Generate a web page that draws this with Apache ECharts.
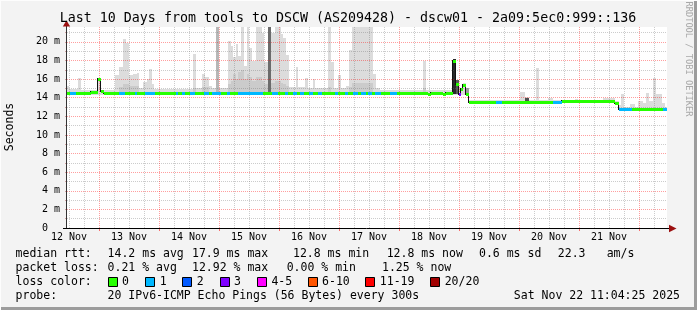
<!DOCTYPE html>
<html><head><meta charset="utf-8">
<script src="https://cdn.jsdelivr.net/npm/echarts@6/dist/echarts.min.js"></script>
<style>html,body{margin:0;padding:0;background:#f3f3f3}#c{width:697px;height:310px}</style>
</head><body><div id="c"></div>
<script>
// ---------------- data (hours since 12 Nov 00:00, values in ms) ----------------
const titleText = 'Last 10 Days from tools to DSCW (AS209428) - dscw01 - 2a09:5ec0:999::136';
const xMin = 11.2, xMax = 251.2;          // 12 Nov 11:12 .. 22 Nov 11:12
const yMax = 21.6;                         // ms
const dayLabels = ['12 Nov','13 Nov','14 Nov','15 Nov','16 Nov','17 Nov','18 Nov','19 Nov','20 Nov','21 Nov'];
const dayNoons  = [12, 36, 60, 84, 108, 132, 156, 180, 204, 228];
const midnights = [24, 48, 72, 96, 120, 144, 168, 192, 216, 240];
const sixHours  = [12,18,30,36,42,54,60,66,78,84,90,102,108,114,126,132,138,150,156,162,174,180,186,198,204,210,222,228,234,246];

// median rtt steps: [start hour, median ms, lost pings of 20]
const medianSteps = [
 [11.2,14.5,0],[12.4,14.5,1],[14.8,14.5,0],[20.8,14.6,0],[23.6,16.0,0],[24.8,14.75,0],[26.0,14.5,0],
 [32.0,14.5,1],[34.4,14.5,0],[38.4,14.5,1],[39.2,14.5,0],[42.4,14.5,1],[46.4,14.5,0],[54.8,14.5,1],
 [55.6,14.5,0],[57.2,14.5,1],[58.4,14.5,0],[60.4,14.5,1],[62.4,14.5,0],[66.0,14.5,1],[68.0,14.5,0],
 [69.2,14.5,1],[72.8,14.5,0],[75.2,14.5,1],[76.4,14.5,0],[79.6,14.5,1],[89.6,14.5,0],[93.2,14.5,1],
 [95.6,14.5,0],[98.4,14.5,1],[99.6,14.5,0],[101.6,14.5,1],[103.2,14.5,0],[104.4,14.5,1],[106.0,14.5,0],
 [108.0,14.5,1],[109.6,14.5,0],[111.6,14.5,1],[113.2,14.5,0],[118.4,14.5,1],[119.6,14.5,0],[122.4,14.5,1],
 [123.6,14.5,0],[125.6,14.5,1],[127.6,14.5,0],[128.8,14.5,1],[130.8,14.5,0],[131.6,14.5,1],[133.2,14.5,0],
 [134.4,14.5,1],[136.8,14.5,0],[140.4,14.5,1],[143.2,14.5,0],[155.6,14.4,0],[156.8,14.5,0],[161.6,14.4,0],
 [162.8,14.5,0],[165.6,17.9,0],[166.8,15.5,0],[168.0,14.4,3],[168.8,14.9,0],[169.6,15.4,0],[170.8,14.45,0],
 [172.0,13.58,0],[182.8,13.58,1],[185.2,13.58,0],[205.6,13.58,1],[209.2,13.7,0],[215.2,13.62,0],
 [220.4,13.68,0],[225.6,13.6,0],[230.4,13.45,0],[232.0,12.83,1],[237.2,12.83,0],[249.6,12.83,1]
];

// smoke columns: [start hour, max ping ms, inner (denser) ping ms or 0]
const smokeCols = [
 [11.2,15.3,0],[12.0,14.95,0],[15.6,16.1,0],[16.8,14.85,0],[23.6,16.1,0],[24.8,14.85,0],[30.4,16.4,0],
 [32.0,17.3,15.2],[33.6,20.3,15.5],[34.8,19.85,15.5],[36.0,16.4,15.3],[37.6,16.6,15.3],[39.2,16.7,15.3],
 [40.0,15.0,0],[41.6,15.65,0],[43.2,16.0,0],[44.0,17.1,0],[45.2,15.5,0],[46.0,14.95,0],[61.6,18.7,15.0],
 [62.8,15.0,0],[65.2,16.5,15.2],[66.4,16.2,15.2],[68.0,15.3,0],[69.2,15.0,0],[70.8,21.6,0],[72.0,15.0,0],
 [75.6,20.1,15.5],[76.8,19.6,15.8],[77.6,18.35,16.5],[78.8,19.8,16.0],[79.6,18.5,16.8],[80.8,21.6,17.0],
 [82.0,17.4,16.0],[83.2,21.6,16.5],[84.0,19.35,16.2],[85.2,17.9,15.8],[86.8,21.6,16.2],[89.2,21.0,15.8],
 [90.0,17.8,15.5],[91.6,21.6,0],[92.8,21.0,15.6],[94.4,21.6,15.8],[96.8,20.8,15.6],[97.6,20.4,15.5],
 [98.8,18.6,15.3],[100.0,15.2,0],[102.8,17.35,0],[103.6,15.2,0],[106.4,16.1,0],[107.6,15.0,0],
 [109.6,16.0,0],[110.4,15.0,0],[115.6,21.6,15.2],[116.8,17.8,0],[118.0,15.0,0],[119.6,16.4,0],
 [120.8,15.0,0],[122.8,15.3,0],[124.0,19.1,15.2],[125.2,21.6,15.6],[133.6,16.6,0],[134.8,15.0,0],
 [136.4,14.85,0],[153.6,18.0,15.0],[154.8,14.8,0],[165.6,18.2,0],[166.8,15.8,0],[168.0,14.9,0],
 [169.6,15.6,0],[170.8,15.0,0],[172.0,13.75,0],[192.4,14.6,0],[194.4,14.05,0],[196.0,13.75,0],
 [198.8,17.2,0],[200.0,13.75,0],[203.6,14.0,0],[205.6,13.75,0],[214.4,13.9,0],[215.6,13.8,0],
 [225.6,14.0,0],[230.4,13.7,0],[232.0,13.2,0],[232.8,14.45,0],[234.0,13.0,0],[236.4,13.3,0],
 [238.4,12.95,0],[239.6,13.6,0],[241.6,13.4,0],[242.8,14.55,0],[244.0,13.6,0],[245.6,16.1,0],
 [246.8,14.45,0],[249.2,13.4,0],[250.4,13.0,0]
];
// minimum ping (bottom of smoke): [from hour, ms]
const smokeFloor = [[11.2,14.3],[172.0,13.45],[232.0,12.7]];
// dense smoke: [start, end, low ms, high ms, density 0..1]
const denseSmoke = [
 [70.8,72.0,14.3,21.6,0.2],[91.6,92.8,14.3,21.6,0.6],[165.6,166.8,14.4,18.2,0.95],
 [166.8,168.0,14.4,15.9,0.7],[170.8,172.0,14.4,15.0,0.35],[194.4,196.0,13.6,13.95,0.75]
];

const lossLabels = ['0','1','2','3','4-5','6-10','11-19','20/20'];
const lossColors = ['#26ff00','#00b8ff','#0059ff','#7e00ff','#ff00ff','#ff5500','#ff0000','#a10000'];
const rttStats  = ['14.2 ms avg','17.9 ms max','12.8 ms min','12.8 ms now','0.6 ms sd','22.3','am/s'];
const lossStats = ['0.21 % avg','12.92 % max','0.00 % min','1.25 % now'];
const probeText = '20 IPv6-ICMP Echo Pings (56 Bytes) every 300s';
const stampText = 'Sat Nov 22 11:04:25 2025';

// ---------------- build ----------------
function lossIndex(n){ if(n<=0)return 0; if(n===1)return 1; if(n===2)return 2; if(n===3)return 3; if(n<=5)return 4; if(n<=10)return 5; if(n<=19)return 6; return 7; }
function floorAt(h){ let v=smokeFloor[0][1]; smokeFloor.forEach(f=>{ if(h>=f[0]-1e-9) v=f[1]; }); return v; }

const smokeData = smokeCols.map((c,i)=>{
  const end = i+1<smokeCols.length ? smokeCols[i+1][0] : xMax;
  return [c[0], end, floorAt(c[0]), c[1], c[2]];
});
const medianData = medianSteps.map((m,i)=>{
  const end = i+1<medianSteps.length ? medianSteps[i+1][0] : xMax;
  return [m[0], end, m[1], m[2]];
});
const gridData = sixHours.map(h=>[h,0]).concat(midnights.map(h=>[h,1]));

const FONT = '"DejaVu Sans Mono", monospace';
const MAJOR = 'rgba(255,0,0,0.38)';
const MINOR = 'rgba(110,110,110,0.35)';

const chart = echarts.init(document.getElementById('c'), null, {renderer:'canvas', width:697, height:310});

function txt(x,y,text,opts){
  opts = opts||{};
  const align = opts.align||'left';
  return {type:'text', x:x, y:y, rotation:opts.rotation||0, z:20, silent:true,
    style:{text:text, font:(opts.size||11.5)+'px '+FONT, fill:opts.color||'#000',
      align:align, verticalAlign:'middle', textAlign:align, textVerticalAlign:'middle'}};
}

const graphics = [];
// frame
graphics.push({type:'rect', shape:{x:694,y:0,width:3,height:310}, style:{fill:'#9c9c9c'}, z:20, silent:true});
graphics.push({type:'rect', shape:{x:0,y:307,width:697,height:3}, style:{fill:'#9c9c9c'}, z:20, silent:true});
graphics.push({type:'rect', shape:{x:0,y:0,width:697,height:1}, style:{fill:'#fdfdfd'}, z:20, silent:true});
graphics.push({type:'rect', shape:{x:0,y:0,width:1,height:310}, style:{fill:'#fdfdfd'}, z:20, silent:true});
// title and side texts
graphics.push(txt(348,19,titleText,{size:13.3,align:'center'}));
graphics.push(txt(10.5,127,'Seconds',{align:'center',rotation:Math.PI/2}));
graphics.push(txt(688,59,'RRDTOOL / TOBI OETIKER',{size:8.7,align:'center',rotation:-Math.PI/2,color:'#a8a8a8'}));
// axes lines + arrows
graphics.push({type:'line', shape:{x1:66.5,y1:228,x2:66.5,y2:25}, style:{stroke:'#333',lineWidth:1}, z:15, silent:true});
graphics.push({type:'line', shape:{x1:63,y1:228.5,x2:670,y2:228.5}, style:{stroke:'#000',lineWidth:1}, z:15, silent:true});
graphics.push({type:'polygon', shape:{points:[[66.5,20.5],[62.8,26.5],[70.2,26.5]]}, style:{fill:'#9b0f0f'}, z:16, silent:true});
graphics.push({type:'polygon', shape:{points:[[676.5,228.5],[669,224.8],[669,232.2]]}, style:{fill:'#9b0f0f'}, z:16, silent:true});
// legend rows
const rowY = [254.5, 268.5, 282.5, 296.5];
graphics.push(txt(15.6,rowY[0],'median rtt:'));
const rttX = [107.6,192,293,386.7,479,557.8,606.7];
rttStats.forEach((s,i)=>graphics.push(txt(rttX[i],rowY[0],s)));
graphics.push(txt(15.6,rowY[1],'packet loss:'));
const lossX = [107.6,192,286.7,382];
lossStats.forEach((s,i)=>graphics.push(txt(lossX[i],rowY[1],s)));
graphics.push(txt(15.6,rowY[2],'loss color:'));
const sqX = [107.6,145.3,182.2,219.6,256.9,307.6,365.3,430.2];
lossLabels.forEach((l,i)=>{
  graphics.push({type:'rect', shape:{x:Math.round(sqX[i])+0.5,y:277.5,width:9,height:9}, style:{fill:lossColors[i],stroke:'#000',lineWidth:1}, z:20, silent:true});
  graphics.push(txt(sqX[i]+14.5,rowY[2],l));
});
graphics.push(txt(15.6,rowY[3],'probe:'));
graphics.push(txt(107.6,rowY[3],probeText));
graphics.push(txt(680,rowY[3],stampText,{align:'right'}));

const option = {
  animation:false,
  backgroundColor:'#f3f3f3',
  grid:{left:67, top:27, width:600, height:201, show:true, backgroundColor:'#ffffff', borderWidth:0},
  xAxis:{type:'value', min:xMin, max:xMax,
    axisLine:{show:false}, splitLine:{show:false},
    axisTick:{show:true, customValues:midnights, length:3, lineStyle:{color:'rgba(255,0,0,0.55)'}},
    axisLabel:{customValues:dayNoons, formatter:v=>{const k=dayNoons.indexOf(v);return k>=0?dayLabels[k]:'';},
      fontFamily:FONT, fontSize:10, color:'#000', margin:4}},
  yAxis:{type:'value', min:0, max:yMax, interval:1, z:3,
    axisLine:{show:false},
    axisTick:{show:true, length:2, lineStyle:{color:'#d4a0a0'}},
    splitLine:{show:true, showMaxLine:false, lineStyle:{color:[MAJOR,MINOR], type:[1,1], width:1}},
    axisLabel:{fontFamily:FONT, fontSize:10, color:'#000', margin:7, showMaxLabel:false,
      formatter:v=>{ if(Math.abs(v-Math.round(v))>1e-6) return ''; const n=Math.round(v); if(n%2) return ''; return n===0?'0  ':n+' m'; }}},
  series:[
    {type:'custom', name:'smoke', z:2, clip:true, silent:true,
     data:smokeData, encode:{x:[0,1], y:[2,3]},
     renderItem:(p,api)=>{
       const s=api.value(0), e=api.value(1), lo=api.value(2), hi=api.value(3), mid=api.value(4);
       const a=api.coord([s,hi]), b=api.coord([e,lo]);
       const x0=Math.round(a[0]), x1=Math.round(b[0]);
       const yb=Math.round(b[1]);
       const ch=[{type:'rect', shape:{x:x0,y:Math.round(a[1]),width:x1-x0,height:yb-Math.round(a[1])}, style:{fill:'#dcdcdc'}}];
       if(mid>0){ const m=api.coord([s,mid]); ch.push({type:'rect', shape:{x:x0,y:Math.round(m[1]),width:x1-x0,height:yb-Math.round(m[1])}, style:{fill:'#cbcbcb'}}); }
       return {type:'group', children:ch};
     }},
    {type:'custom', name:'dense', z:2.5, clip:true, silent:true,
     data:denseSmoke, encode:{x:[0,1], y:[2,3]},
     renderItem:(p,api)=>{
       const a=api.coord([api.value(0),api.value(3)]), b=api.coord([api.value(1),api.value(2)]);
       const g=Math.round(221-api.value(4)*190);
       const x0=Math.round(a[0]), x1=Math.round(b[0]);
       return {type:'rect', shape:{x:x0,y:Math.round(a[1]),width:x1-x0,height:Math.round(b[1])-Math.round(a[1])}, style:{fill:'rgb('+g+','+g+','+g+')'}};
     }},
    {type:'custom', name:'vgrid', z:3, clip:true, silent:true,
     data:gridData, encode:{x:0},
     renderItem:(p,api)=>{
       const a=api.coord([api.value(0),0]), b=api.coord([api.value(0),yMax]);
       const x=Math.round(a[0])+0.5;
       return {type:'line', shape:{x1:x,y1:a[1],x2:x,y2:b[1]}, style:{stroke:api.value(1)?MAJOR:MINOR,lineWidth:1,lineDash:[1,1]}};
     }},
    {type:'custom', name:'median', z:4, clip:true, silent:true,
     data:medianData, encode:{x:[0,1], y:2},
     renderItem:(p,api)=>{
       const s=api.value(0), e=api.value(1), v=api.value(2), lost=api.value(3);
       const a=api.coord([s,v]), b=api.coord([e,v]);
       const x0=Math.round(a[0]), x1=Math.round(b[0]);
       const yc=Math.round(a[1]);
       const ch=[];
       const i=p.dataIndex;
       if(i>0){
         const pv=medianData[i-1][2];
         if(Math.abs(pv-v)>0.05){
           const q=api.coord([s,pv]); const yq=Math.round(q[1]);
           ch.push({type:'rect', shape:{x:x0-1,y:Math.min(yq,yc)-1,width:1,height:Math.abs(yq-yc)+2}, style:{fill:'#111'}, z2:1});
         }
       }
       ch.push({type:'rect', shape:{x:x0,y:yc-1,width:x1-x0,height:3}, style:{fill:lossColors[lossIndex(lost)]}, z2:2});
       return {type:'group', children:ch};
     }}
  ],
  graphic:graphics
};
chart.setOption(option);
</script>
</body></html>
